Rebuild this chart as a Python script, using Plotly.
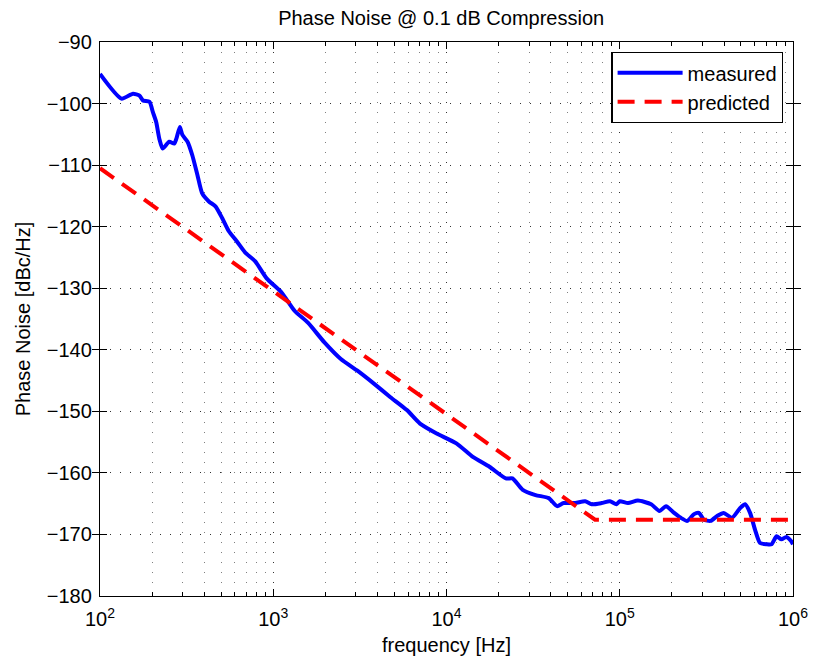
import plotly.graph_objects as go

# measured data: (frequency Hz, phase noise dBc/Hz)
meas_f = [100, 133, 155, 169, 177, 193, 202, 211, 220, 230, 251, 268, 276, 289, 299, 320, 341, 365,
          389, 425, 464, 507, 553, 617, 689, 785, 916, 1117, 1331, 1585, 1974, 2455, 3060, 3811,
          4746, 5907, 7031, 8770, 11400, 14190, 17690, 22020, 24040, 27420, 32660, 38900, 43450,
          47420, 55320, 63100, 68870, 78560, 87700, 95700, 100000, 111600, 127300, 151800, 169400,
          185000, 206000, 225000, 245500, 268300, 286400, 306000, 334200, 364900, 398100, 444500,
          495800, 529600, 565300, 603500, 645700, 704600, 752000, 803500, 857800, 916000, 977000,
          1000000]
meas_pn = [-95.2, -99.2, -98.4, -98.7, -99.5, -99.7, -101.4, -103.0, -105.7, -107.3, -106.2, -106.5,
           -105.7, -103.8, -105.1, -106.2, -108.4, -111.6, -114.6, -115.9, -116.7, -118.6, -120.7,
           -122.4, -124.2, -125.6, -128.4, -130.7, -133.7, -135.6, -138.8, -141.5, -143.4, -145.5,
           -147.7, -149.8, -152.0, -153.6, -155.2, -157.4, -159.0, -160.9, -160.9, -162.7, -163.6,
           -164.1, -165.4, -164.9, -164.9, -164.6, -165.1, -164.9, -164.6, -165.1, -164.6, -164.9,
           -164.5, -165.1, -166.2, -165.4, -166.5, -167.3, -167.8, -166.7, -166.5, -167.6, -167.8,
           -167.0, -166.5, -167.3, -165.7, -165.1, -166.5, -169.2, -171.4, -171.6, -171.6, -170.3,
           -170.8, -170.4, -171.1, -171.6]

# predicted data
pred_f = [100, 1000, 10000, 72000, 1000000]
pred_pn = [-110.5, -130.5, -150.5, -167.6, -167.6]

x_major = [1e2, 1e3, 1e4, 1e5, 1e6]
x_major_text = ["10<sup>2</sup>", "10<sup>3</sup>", "10<sup>4</sup>", "10<sup>5</sup>", "10<sup>6</sup>"]
x_minor = [m * 10 ** e for e in range(2, 6) for m in range(2, 10)]
y_ticks = list(range(-180, -89, 10))

font = "Arial, Liberation Sans, Helvetica, sans-serif"

fig = go.Figure()
fig.add_trace(go.Scatter(x=meas_f, y=meas_pn, mode="lines", name="measured",
                         line=dict(color="#0000ff", width=4, shape="spline", smoothing=0.6)))
fig.add_trace(go.Scatter(x=pred_f, y=pred_pn, mode="lines", name="predicted",
                         line=dict(color="#ff0000", width=4, dash="17px,10px")))
# invisible trace on minor axis so it renders
fig.add_trace(go.Scatter(x=[1e2, 1e6], y=[-180, -180], xaxis="x2", mode="lines",
                         line=dict(width=0), showlegend=False, hoverinfo="skip"))

major_grid = "rgba(0,0,0,0.8)"
minor_grid = "rgba(0,0,0,0.5)"
dots = "1px,9px"
fig.update_layout(
    width=820, height=664,
    margin=dict(l=100, r=19, t=42, b=64),
    paper_bgcolor="white", plot_bgcolor="white",
    font=dict(family=font, size=20, color="black"),
    title=dict(text="Phase Noise @ 0.1 dB Compression", x=0.538, xanchor="center",
               xref="container", y=0.973, yanchor="middle", font=dict(size=20)),
    xaxis=dict(type="log", range=[2, 6], tickvals=x_major, ticktext=x_major_text,
               showgrid=True, gridcolor=major_grid, griddash=dots, gridwidth=1,
               ticks="inside", ticklen=7, tickcolor="black", showline=True, linecolor="black",
               linewidth=1.3, mirror="allticks", zeroline=False,
               title=dict(text="frequency [Hz]", font=dict(size=20), standoff=8),
               tickfont=dict(size=20), ticklabelstandoff=5),
    xaxis2=dict(type="log", range=[2, 6], overlaying="x", tickvals=x_minor,
                showticklabels=False, showgrid=True, gridcolor=minor_grid, griddash=dots,
                gridwidth=1, ticks="inside", ticklen=4, tickcolor="black", side="bottom",
                mirror="allticks", showline=False, zeroline=False),
    yaxis=dict(range=[-180, -90], tickvals=y_ticks, showgrid=True, gridcolor=major_grid,
               griddash=dots, gridwidth=1, ticks="inside", ticklen=7, tickcolor="black",
               showline=True, linecolor="black", linewidth=1.3, mirror="allticks", zeroline=False,
               title=dict(text="Phase Noise [dBc/Hz]", font=dict(size=20), standoff=10),
               tickfont=dict(size=20), ticklabelstandoff=3),
    legend=dict(x=0.986, y=0.982, xanchor="right", yanchor="top", bgcolor="white",
                bordercolor="black", borderwidth=1.3, font=dict(size=20),
                itemwidth=65, tracegroupgap=0),
    showlegend=True,
)
fig.write_html("out.html")
